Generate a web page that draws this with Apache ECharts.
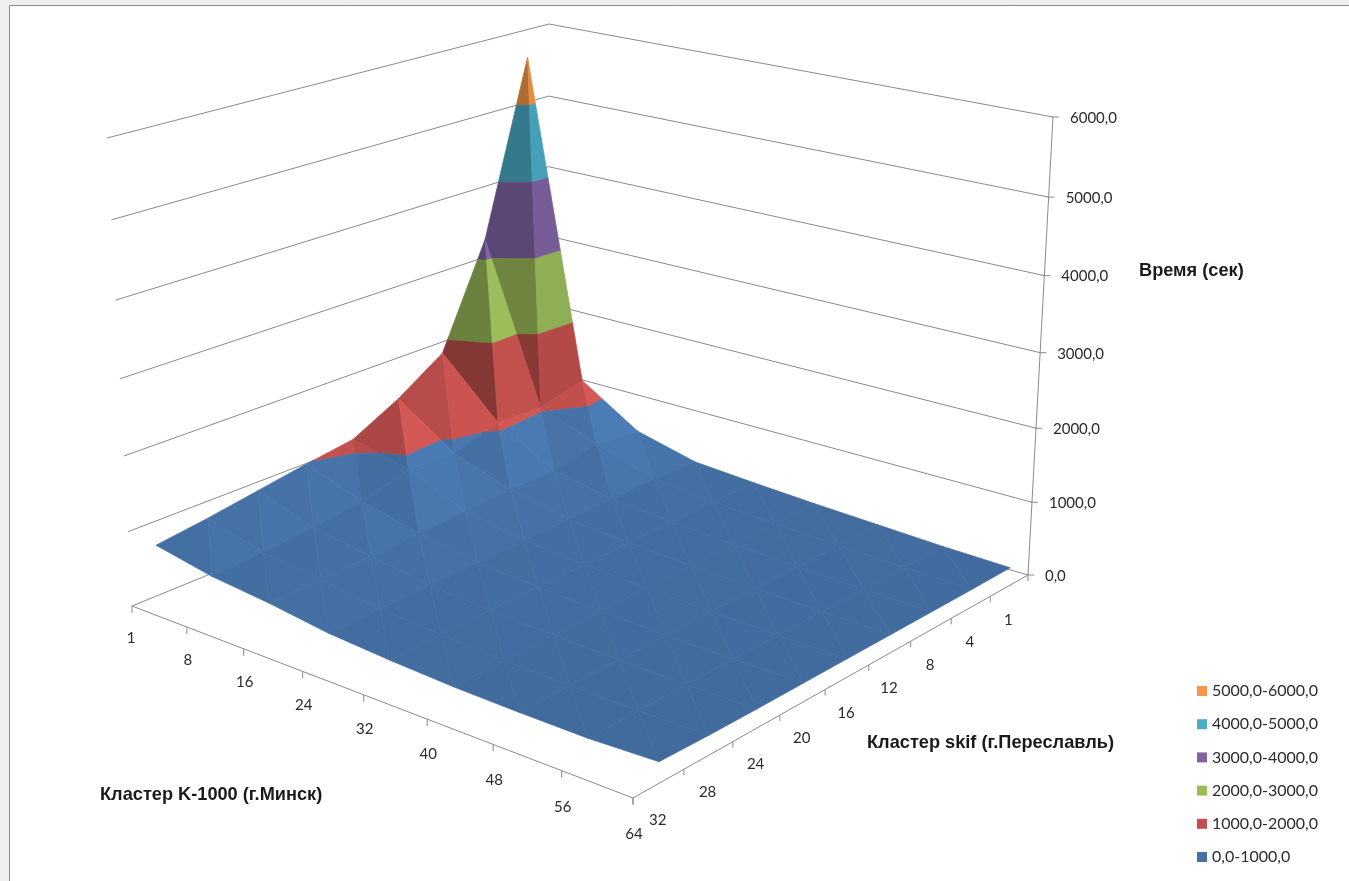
<!DOCTYPE html>
<html>
<head>
<meta charset="utf-8">
<title>Время (сек)</title>
<script src="https://cdn.jsdelivr.net/npm/echarts@6/dist/echarts.min.js"></script>
<style>
html, body { margin: 0; padding: 0; height: 100%; background: #efefef; }
#chart { width: 1349px; height: 881px; }
</style>
</head>
<body>
<div id="chart"></div>
<script>
// categories
const clusterK = [1, 8, 16, 24, 32, 40, 48, 56, 64]
const clusterSkif = [1, 4, 8, 12, 16, 20, 24, 28, 32]
const timeTicks = [0, 1000, 2000, 3000, 4000, 5000, 6000]
const timeTickLabels = ['0,0', '1000,0', '2000,0', '3000,0', '4000,0', '5000,0', '6000,0']
const bandNames = ['5000,0-6000,0', '4000,0-5000,0', '3000,0-4000,0', '2000,0-3000,0', '1000,0-2000,0', '0,0-1000,0']

// время (сек): one list per skif size, read along clusterK
const timeSkif1 = [5620, 1190, 670, 460, 400, 350, 310, 270, 245]
const timeSkif4 = [3250, 1030, 730, 470, 390, 340, 300, 265, 240]
const timeSkif8 = [1840, 1060, 610, 450, 380, 330, 290, 260, 240]
const timeSkif12 = [1420, 870, 600, 440, 370, 320, 285, 255, 240]
const timeSkif16 = [1085, 900, 560, 420, 355, 310, 275, 250, 240]
const timeSkif20 = [990, 720, 530, 400, 340, 295, 265, 245, 240]
const timeSkif24 = [880, 630, 500, 380, 325, 280, 255, 240, 240]
const timeSkif28 = [770, 570, 470, 360, 305, 265, 240, 235, 245]
const timeSkif32 = [680, 530, 450, 340, 285, 245, 230, 225, 260]
const timeRows = [timeSkif1, timeSkif4, timeSkif8, timeSkif12, timeSkif16, timeSkif20, timeSkif24, timeSkif28, timeSkif32]

const bandColors = ['#F79646', '#4BACC6', '#8064A2', '#9BBB59', '#C0504D', '#4F81BD']
const zMax = 6000
const lineColor = '#8a8a8a'
const textColor = '#2b2b2b'
const labelFont = '15px Lato'

// box corners of the 3d chart, order: back, right, front, left
const floorBox = [[548, 436], [1028, 575], [633, 798], [132, 606]]
const topBox = [[549, 24], [1053, 117], [639, 262], [107, 138]]
const zPerspective = 1.06

// square -> quad perspective map
function makeQuad(q) {
  const [x0, y0] = q[0], [x1, y1] = q[1], [x2, y2] = q[2], [x3, y3] = q[3]
  const dx1 = x1 - x2, dx2 = x3 - x2, sx = x0 - x1 + x2 - x3
  const dy1 = y1 - y2, dy2 = y3 - y2, sy = y0 - y1 + y2 - y3
  const det = dx1 * dy2 - dx2 * dy1
  const g = (sx * dy2 - dx2 * sy) / det
  const h = (dx1 * sy - sx * dy1) / det
  const a = x1 - x0 + g * x1, b = x3 - x0 + h * x3
  const d = y1 - y0 + g * y1, e = y3 - y0 + h * y3
  return (u, v) => {
    const w = g * u + h * v + 1
    return [(a * u + b * v + x0) / w, (d * u + e * v + y0) / w]
  }
}
const floorMap = makeQuad(floorBox)
const topMap = makeQuad(topBox)

// u along clusterK, v along clusterSkif, t in seconds
function project(u, v, t) {
  const z = t / zMax
  const s = z / (z + zPerspective * (1 - z))
  const p0 = floorMap(u, v)
  const p1 = topMap(u, v)
  return [p0[0] + (p1[0] - p0[0]) * s, p0[1] + (p1[1] - p0[1]) * s]
}

const uOf = i => i / (clusterK.length - 1)
const vOf = j => (j + 0.5) / clusterSkif.length

function clipBand(poly, lo, hi) {
  const cut = (pts, limit, keepAbove) => {
    const out = []
    pts.forEach((p, n) => {
      const q = pts[(n + 1) % pts.length]
      const pin = keepAbove ? p[2] >= limit : p[2] <= limit
      const qin = keepAbove ? q[2] >= limit : q[2] <= limit
      if (pin) out.push(p)
      if (pin !== qin) {
        const f = (limit - p[2]) / (q[2] - p[2])
        out.push([p[0] + (q[0] - p[0]) * f, p[1] + (q[1] - p[1]) * f, limit])
      }
    })
    return out
  }
  let res = cut(poly, lo, true)
  if (res.length) res = cut(res, hi, false)
  return res
}

function shade(tri) {
  const w = p => [p[0] * 8, p[1] * 9, p[2] * 0.0012]
  const a = w(tri[0]), b = w(tri[1]), c = w(tri[2])
  const e1 = [b[0] - a[0], b[1] - a[1], b[2] - a[2]]
  const e2 = [c[0] - a[0], c[1] - a[1], c[2] - a[2]]
  let n = [e1[1] * e2[2] - e1[2] * e2[1], e1[2] * e2[0] - e1[0] * e2[2], e1[0] * e2[1] - e1[1] * e2[0]]
  if (n[2] < 0) n = n.map(x => -x)
  const len = Math.hypot(n[0], n[1], n[2])
  const dot = (n[0] * 0.8 - n[1] * 0.4 + n[2] * 0.45) / len
  const steep = 1 - n[2] / len
  return (0.8 + 0.6 * (dot - 0.24)) * (1 - 0.25 * steep)
}

// the blue floor is much flatter than the lit peak faces
function shadeBlue(f) {
  const flat = 0.926
  return f > flat ? 0.83 + (f - flat) * 0.7 : 0.83 + (f - flat) * 0.12
}

function tint(hex, f) {
  const n = parseInt(hex.slice(1), 16)
  const ch = v => Math.max(0, Math.min(255, Math.round(v * f)))
  return 'rgb(' + ch(n >> 16) + ',' + ch((n >> 8) & 255) + ',' + ch(n & 255) + ')'
}

// split the surface into triangles, then into the value bands
const bandPieces = bandNames.map(() => [])
for (let j = 0; j < clusterSkif.length - 1; j++) {
  for (let i = 0; i < clusterK.length - 1; i++) {
    const pt = (a, b) => [uOf(a), vOf(b), timeRows[b][a]]
    const tris = [
      [pt(i, j), pt(i, j + 1), pt(i + 1, j + 1)],
      [pt(i, j), pt(i + 1, j), pt(i + 1, j + 1)]
    ]
    tris.forEach(tri => {
      const f = shade(tri)
      bandNames.forEach((name, k) => {
        const lo = (5 - k) * 1000
        const poly = clipBand(tri, lo, lo + 1000)
        if (poly.length > 2) {
          bandPieces[k].push({ poly, depth: i + j, color: tint(bandColors[k], k === 5 ? shadeBlue(f) : f) })
        }
      })
    })
  }
}
bandPieces.forEach(list => list.sort((a, b) => a.depth - b.depth))

const renderPiece = k => (params, api) => {
  const piece = bandPieces[k][api.value(0)]
  const points = piece.poly.map(p => api.coord(project(p[0], p[1], p[2])))
  return {
    type: 'polygon',
    shape: { points },
    style: { fill: piece.color, stroke: piece.color, lineWidth: 0.7 }
  }
}

// walls, floor edges, ticks and tick labels
function renderFrame(params, api) {
  const kids = []
  const line = (a, b) => {
    const p = api.coord(a), q = api.coord(b)
    kids.push({
      type: 'line',
      shape: { x1: p[0], y1: p[1], x2: q[0], y2: q[1] },
      style: { stroke: lineColor, lineWidth: 1 }
    })
  }
  const label = (text, pos, align) => {
    const p = api.coord(pos)
    kids.push({
      type: 'text',
      style: { text, x: p[0], y: p[1], font: labelFont, fill: textColor, textAlign: align, textVerticalAlign: 'middle' }
    })
  }
  timeTicks.forEach((t, n) => {
    const back = project(0, 0, t)
    const right = project(1, 0, t)
    line(project(0, 1, t), back)
    line(back, right)
    line([right[0] - 1, right[1]], [right[0] + 6, right[1]])
    label(timeTickLabels[n], [right[0] + 17, right[1] + 1], 'left')
  })
  line(project(1, 0, 0), project(1, 0, zMax))
  line(project(0, 1, 0), project(1, 1, 0))
  line(project(1, 1, 0), project(1, 0, 0))
  clusterK.forEach((name, i) => {
    const u = uOf(i)
    const p = project(u, 1, 0)
    line(p, [p[0], p[1] + 7])
    label(String(name), [p[0] + (i ? 1 : -1), p[1] + 32.5 + u * 4], 'center')
  })
  for (let j = 0; j <= clusterSkif.length; j++) {
    const p = project(1, j / clusterSkif.length, 0)
    line(p, [p[0], p[1] + 6])
  }
  clusterSkif.forEach((name, j) => {
    const p = project(1, vOf(j), 0)
    label(String(name), [p[0] - 1, p[1] + 34.5 + j * 0.3], 'center')
  })
  return { type: 'group', children: kids }
}

const axisTitle = (text, left, top) => ({
  type: 'text',
  left,
  top,
  style: { text, font: 'bold 18.2px "Liberation Sans"', fill: '#1a1a1a' }
})

const options = {
  backgroundColor: '#efefef',
  animation: false,
  grid: { left: 0, top: 0, right: 0, bottom: 0 },
  xAxis: { type: 'value', min: 0, max: 1349, show: false },
  yAxis: { type: 'value', min: 0, max: 881, inverse: true, show: false },
  legend: {
    data: bandNames,
    orient: 'vertical',
    left: 1192,
    top: 678,
    icon: 'rect',
    itemWidth: 10,
    itemHeight: 10,
    itemGap: 17.2,
    selectedMode: false,
    textStyle: { fontFamily: 'Lato', fontSize: 16, color: textColor }
  },
  graphic: [
    { type: 'rect', z: -10, shape: { x: 9.5, y: 5.5, width: 1400, height: 900 }, style: { fill: '#fff', stroke: '#8a8a8a', lineWidth: 1 } },
    axisTitle('Кластер K-1000 (г.Минск)', 100, 786),
    axisTitle('Кластер skif (г.Переславль)', 867, 734),
    axisTitle('Время (сек)', 1139, 262)
  ],
  series: [
    { name: 'frame', type: 'custom', silent: true, clip: false, z: 1, data: [[0]], renderItem: renderFrame }
  ].concat(bandNames.map((name, k) => ({
    name,
    type: 'custom',
    silent: true,
    clip: false,
    z: 2,
    itemStyle: { color: k === 5 ? '#4472A8' : bandColors[k] },
    data: bandPieces[k].map((p, n) => [n]),
    renderItem: renderPiece(k)
  })))
}

const chart = echarts.init(document.getElementById('chart'))
chart.setOption(options)
window.addEventListener('resize', function () {
  chart && chart.resize()
})
</script>
</body>
</html>
